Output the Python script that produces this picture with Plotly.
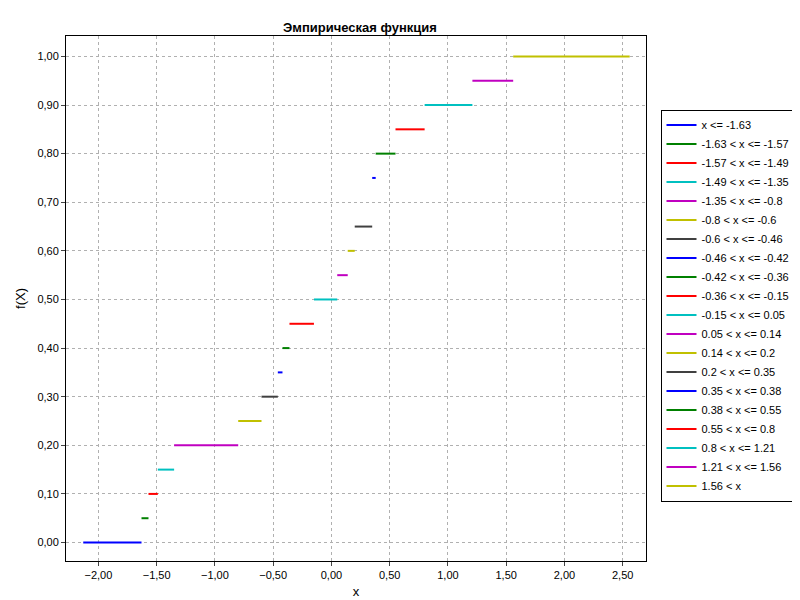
import plotly.graph_objects as go

breaks = [-1.63, -1.57, -1.49, -1.35, -0.8, -0.6, -0.46, -0.42, -0.36, -0.15,
          0.05, 0.14, 0.2, 0.35, 0.38, 0.55, 0.8, 1.21, 1.56]
levels = [0.0, 0.05, 0.10, 0.15, 0.20, 0.25, 0.30, 0.35, 0.40, 0.45, 0.50,
          0.55, 0.60, 0.65, 0.75, 0.80, 0.85, 0.90, 0.95, 1.00]
x_min, x_max = -2.13, 2.56
colors = ["#0000ff", "#008000", "#ff0000", "#00c0c0", "#c000c0", "#c0c000", "#404040"]

edges = [x_min] + breaks + [x_max]
fig = go.Figure()
for i, y in enumerate(levels):
    if i == 0:
        name = f"x <= {breaks[0]}"
    elif i == len(levels) - 1:
        name = f"{breaks[-1]} < x"
    else:
        name = f"{breaks[i-1]} < x <= {breaks[i]}"
    fig.add_trace(go.Scatter(x=[edges[i], edges[i + 1]], y=[y, y], mode="lines",
                             line=dict(color=colors[i % len(colors)], width=2), name=name))

axis = dict(showline=True, linecolor="black", mirror=True, ticks="outside", ticklen=4,
            gridcolor="#b0b0b0", griddash="dot", gridwidth=1, zeroline=False, tickformat=".2f",
            tickfont=dict(size=11, color="black"))
fig.update_layout(
    width=800, height=600, separators=",.",
    paper_bgcolor="white", plot_bgcolor="white",
    font=dict(family="Liberation Sans, Arial", size=11, color="black"),
    title=dict(text="<b>Эмпирическая функция</b>", x=0.44, y=0.975, xanchor="center", font=dict(size=13)),
    margin=dict(l=58, r=152, t=28, b=45),
    xaxis=dict(axis, range=[-2.278, 2.70], dtick=0.5, tick0=0,
               title=dict(text="x", standoff=6)),
    yaxis=dict(axis, range=[-0.038, 1.042], dtick=0.1, tick0=0,
               title=dict(text="f(X)", standoff=8)),
    legend=dict(x=1.025, y=0.86, xanchor="left", yanchor="top", bordercolor="black",
                borderwidth=1, font=dict(size=11), tracegroupgap=0, itemwidth=30),
)
fig.write_html("out.html")
